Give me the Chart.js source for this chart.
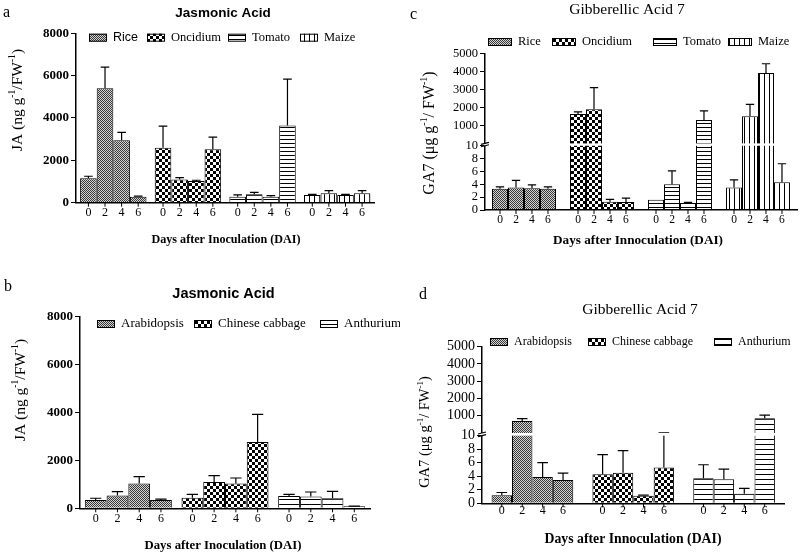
<!DOCTYPE html>
<html><head><meta charset="utf-8">
<script src="https://cdn.jsdelivr.net/npm/chart.js@4.4.0/dist/chart.umd.min.js"></script>
<style>
html,body{margin:0;padding:0;background:#fff;}
#wrap{position:relative;width:800px;height:557px;overflow:hidden;background:#fff;}
canvas{position:absolute;}
</style></head><body>
<div id="wrap">
<canvas id="ca" width="400" height="270" style="left:0;top:0;width:400px;height:270px"></canvas>
<canvas id="cc" width="400" height="270" style="left:400px;top:0;width:400px;height:270px"></canvas>
<canvas id="cb" width="400" height="287" style="left:0;top:270px;width:400px;height:287px"></canvas>
<canvas id="cd" width="400" height="287" style="left:400px;top:270px;width:400px;height:287px"></canvas>
</div>
<script>
// ---------------- DATA ----------------
const days = ['0', '2', '4', '6'];

// Panel a: Jasmonic acid (ng g-1 FW-1)
const speciesA = ['Rice', 'Oncidium', 'Tomato', 'Maize'];
const riceJA = [1150, 5400, 2950, 285];
const riceJAErr = [100, 1000, 370, 30];
const oncidiumJA = [2600, 1100, 1020, 2520];
const oncidiumJAErr = [1020, 80, 40, 580];
const tomatoJA = [285, 400, 285, 3640];
const tomatoJAErr = [80, 90, 45, 2200];
const maizeJA = [360, 445, 360, 445];
const maizeJAErr = [35, 125, 35, 125];

// Panel b: Jasmonic acid
const speciesB = ['Arabidopsis', 'Chinese cabbage', 'Anthurium'];
const arabidopsisJA = [350, 530, 1040, 350];
const arabidopsisJAErr = [70, 165, 280, 30];
const cabbageJA = [445, 1100, 1040, 2770];
const cabbageJAErr = [140, 265, 225, 1150];
const anthuriumJA = [515, 490, 420, 85];
const anthuriumJAErr = [70, 190, 290, 5];

// Panel c: Gibberellic acid 7 (ug g-1 FW-1)
const riceGA = [3.3, 3.5, 3.4, 3.3];
const riceGAErr = [0.3, 1.1, 0.5, 0.3];
const oncidiumGA = [1630, 1900, 1.3, 1.25];
const oncidiumGAErr = [120, 1200, 0.35, 0.6];
const tomatoGA = [1.6, 4.0, 1.1, 1300];
const tomatoGAErr = [0, 2.1, 0.1, 500];
const maizeGA = [3.5, 1500, 3900, 4.3];
const maizeGAErr = [1.2, 670, 520, 2.9];

// Panel d: Gibberellic acid 7
const arabidopsisGA = [1.2, 700, 3.9, 3.45];
const arabidopsisGAErr = [0.4, 130, 2.1, 1.0];
const cabbageGA = [4.3, 4.5, 1.1, 5.3];
const cabbageGAErr = [2.9, 3.3, 0.1, 5.1];
const anthuriumGA = [3.7, 3.55, 1.4, 850];
const anthuriumGAErr = [2.0, 1.5, 0.8, 190];

// Axis ticks
const jaTicks = [0, 2000, 4000, 6000, 8000];
const gaTicks = [0, 2, 4, 6, 8, 10, 1000, 2000, 3000, 4000, 5000];

// ---------------- STYLE HELPERS ----------------
const SERIF = '"Liberation Serif", "Times New Roman", serif';
const SANS = '"Liberation Sans", Arial, sans-serif';
Chart.defaults.color = '#000';

function makePattern(kind, step) {
  const c = document.createElement('canvas');
  const g = c.getContext('2d');
  if (kind === 'dots') {
    c.width = 2; c.height = 2;
    g.fillStyle = '#d4d4d4'; g.fillRect(0, 0, 2, 2);
    g.fillStyle = '#383838'; g.fillRect(0, 0, 1, 1); g.fillRect(1, 1, 1, 1);
  } else if (kind === 'check') {
    c.width = 6; c.height = 6;
    g.fillStyle = '#fff'; g.fillRect(0, 0, 6, 6);
    g.fillStyle = '#000'; g.fillRect(0, 0, 3, 3); g.fillRect(3, 3, 3, 3);
  } else if (kind === 'hline') {
    c.width = 4; c.height = step;
    g.fillStyle = '#fff'; g.fillRect(0, 0, 4, step);
    g.fillStyle = '#000'; g.fillRect(0, step - 1, 4, 1);
  } else {
    c.width = step; c.height = 4;
    g.fillStyle = '#fff'; g.fillRect(0, 0, step, 4);
    g.fillStyle = '#000'; g.fillRect(step - 1, 0, 1, 4);
  }
  return g.createPattern(c, 'repeat');
}

// ---------------- BROKEN SCALE ----------------
const BRK = {
  cc: {low: 10, lowFrac: 0.41, gapFrac: 0.015},
  cd: {low: 10, lowFrac: 0.432, gapFrac: 0.017}
};
class BrokenScale extends Chart.LinearScale {
  static id = 'broken';
  cfg() { return BRK[this.chart.canvas.id]; }
  buildTicks() { return gaTicks.map(v => ({value: v})); }
  lowTop() { const c = this.cfg(); return this.bottom - (this.bottom - this.top) * c.lowFrac; }
  upperZero() { const c = this.cfg(); return this.bottom - (this.bottom - this.top) * (c.lowFrac + c.gapFrac); }
  getPixelForValue(v) {
    const c = this.cfg(); const h = this.bottom - this.top;
    if (v <= c.low) return this.bottom - v / c.low * h * c.lowFrac;
    return this.upperZero() - v / this.max * h * (1 - c.lowFrac - c.gapFrac);
  }
  getValueForPixel(p) {
    const c = this.cfg(); const h = this.bottom - this.top;
    if (p >= this.lowTop()) return (this.bottom - p) / (h * c.lowFrac) * c.low;
    return (this.upperZero() - p) / (h * (1 - c.lowFrac - c.gapFrac)) * this.max;
  }
}
Chart.register(BrokenScale);

// ---------------- TEXT HELPER ----------------
function richWidth(ctx, segs, size, family, weight) {
  let w = 0;
  segs.forEach(s => {
    const sz = s.sup ? size * 0.62 : size;
    ctx.font = (weight || 'normal') + ' ' + sz + 'px ' + family;
    w += ctx.measureText(s.t).width;
  });
  return w;
}
function drawRich(ctx, segs, x, y, size, family, weight, rotate) {
  ctx.save();
  ctx.translate(x, y);
  if (rotate) ctx.rotate(-Math.PI / 2);
  const total = richWidth(ctx, segs, size, family, weight);
  let cx = -total / 2;
  ctx.textBaseline = 'middle';
  ctx.textAlign = 'left';
  ctx.fillStyle = '#000';
  segs.forEach(s => {
    const sz = s.sup ? size * 0.62 : size;
    ctx.font = (weight || 'normal') + ' ' + sz + 'px ' + family;
    ctx.fillText(s.t, cx, s.sup ? -size * 0.33 : 0);
    cx += ctx.measureText(s.t).width;
  });
  ctx.restore();
}

// ---------------- DECORATION PLUGIN ----------------
function decorPlugin(p) {
  return {
    id: 'decor' + p.id,
    afterDatasetsDraw(chart) {
      const ctx = chart.ctx;
      const ys = chart.scales.y;
      ctx.save();
      ctx.strokeStyle = '#000';
      ctx.lineWidth = 1.2;
      // error bars (upper whisker only)
      chart.data.datasets.forEach((ds, i) => {
        const meta = chart.getDatasetMeta(i);
        meta.data.forEach((el, j) => {
          const v = p.series[j][i], e = p.errors[j][i];
          if (!e) return;
          const yt = ys.getPixelForValue(v + e);
          const hw = el.width * 0.26;
          ctx.beginPath();
          ctx.moveTo(el.x, el.y);
          ctx.lineTo(el.x, yt);
          ctx.moveTo(el.x - hw, yt);
          ctx.lineTo(el.x + hw, yt);
          ctx.stroke();
        });
      });
      // axis break
      if (ys.type === 'broken') {
        const a = chart.chartArea;
        const y1 = ys.upperZero(), y2 = ys.lowTop();
        ctx.fillStyle = '#fff';
        ctx.fillRect(a.left - 1, y1, a.right - a.left + 1, y2 - y1);
        ctx.lineWidth = 1.2;
        ctx.beginPath();
        ctx.moveTo(a.left - 4, y1 + 1); ctx.lineTo(a.left + 4, y1 - 1);
        ctx.moveTo(a.left - 4, y2 + 1); ctx.lineTo(a.left + 4, y2 - 1);
        ctx.stroke();
      }
      ctx.restore();
    },
    afterDraw(chart) {
      const ctx = chart.ctx;
      const a = chart.chartArea;
      const ox = p.ox, oy = p.oy;
      ctx.save();
      // x tick marks + day labels under every bar
      ctx.strokeStyle = '#000';
      ctx.lineWidth = 1;
      ctx.fillStyle = '#000';
      ctx.textAlign = 'center';
      ctx.textBaseline = 'middle';
      ctx.font = p.dayFont;
      chart.data.datasets.forEach((ds, i) => {
        const meta = chart.getDatasetMeta(i);
        meta.data.forEach(el => {
          ctx.beginPath();
          ctx.moveTo(el.x, a.bottom);
          ctx.lineTo(el.x, a.bottom + 4);
          ctx.stroke();
          ctx.fillText(days[i], el.x, a.bottom + p.dayOffset);
        });
      });
      // panel letter
      ctx.font = '16px ' + SERIF;
      ctx.textAlign = 'left';
      ctx.fillText(p.letter.t, p.letter.x - ox, p.letter.y - oy);
      // title
      ctx.textAlign = 'center';
      ctx.font = p.title.font;
      ctx.fillText(p.title.t, p.title.x - ox, p.title.y - oy);
      // x-axis title
      ctx.font = p.xTitle.font;
      ctx.fillText(p.xTitle.t, p.xTitle.x - ox, p.xTitle.y - oy, p.xTitle.w);
      // y-axis title
      drawRich(ctx, p.yTitle.segs, p.yTitle.x - ox, p.yTitle.y - oy, p.yTitle.size, SERIF, 'normal', true);
      // legend
      p.legend.forEach((it, k) => {
        const bx = it.x - ox, by = p.legendY - oy - p.box[1] / 2;
        ctx.fillStyle = p.pats[k];
        ctx.fillRect(bx, by, p.box[0], p.box[1]);
        ctx.strokeStyle = '#000';
        ctx.lineWidth = 1;
        ctx.strokeRect(bx + 0.5, by + 0.5, p.box[0] - 1, p.box[1] - 1);
        ctx.fillStyle = '#000';
        ctx.textAlign = 'left';
        ctx.font = it.font;
        ctx.fillText(p.species[k], bx + p.box[0] + 6, p.legendY - oy);
      });
      ctx.restore();
    }
  };
}

// ---------------- BUILD ----------------
function buildPanel(p) {
  const yw = 60, xh = 30;
  const pad = {
    left: p.area.L - p.ox - yw,
    top: p.area.T - p.oy,
    right: p.ox + p.cw - p.area.R,
    bottom: p.oy + p.ch - p.area.B - xh
  };
  const datasets = days.map((d, i) => ({
    label: 'Day ' + d,
    data: p.series.map(s => s[i]),
    backgroundColor: p.pats,
    borderColor: '#000',
    borderWidth: 1
  }));
  const yCommon = {
    min: 0,
    max: p.yMax,
    grid: {display: true, drawOnChartArea: false, drawTicks: true, tickLength: 5, color: '#000', lineWidth: 1},
    border: {display: true, color: '#000', width: 1.5},
    ticks: {autoSkip: false, padding: 2, color: '#000', font: p.tickFont, callback: v => String(v)},
    afterFit: s => { s.width = yw; }
  };
  const yScale = p.broken
    ? Object.assign({type: 'broken'}, yCommon)
    : Object.assign({type: 'linear', afterBuildTicks: s => { s.ticks = jaTicks.map(v => ({value: v})); }}, yCommon);
  new Chart(document.getElementById(p.id), {
    type: 'bar',
    data: {labels: p.species, datasets},
    options: {
      responsive: false,
      animation: false,
      devicePixelRatio: 1,
      layout: {padding: pad},
      datasets: {bar: {categoryPercentage: p.catPct, barPercentage: 1}},
      plugins: {legend: {display: false}, tooltip: {enabled: false}, title: {display: false}},
      scales: {
        x: {
          type: 'category', offset: true,
          grid: {display: false},
          border: {display: true, color: '#000', width: 1.5, z: 1},
          ticks: {display: false},
          afterFit: s => { s.height = xh; }
        },
        y: yScale
      }
    },
    plugins: [decorPlugin(p)]
  });
}

const jaYTitle = [{t: 'JA (ng g'}, {t: '-1', sup: true}, {t: '/FW'}, {t: '-1', sup: true}, {t: ')'}];
const gaYTitle = [{t: 'GA7 (\u03bcg g'}, {t: '-1', sup: true}, {t: '/ FW'}, {t: '-1', sup: true}, {t: ')'}];

buildPanel({
  id: 'ca', ox: 0, oy: 0, cw: 400, ch: 270,
  area: {L: 76, T: 33.3, R: 374.5, B: 202.7}, catPct: 0.89, yMax: 8000, broken: false,
  species: speciesA,
  series: [riceJA, oncidiumJA, tomatoJA, maizeJA],
  errors: [riceJAErr, oncidiumJAErr, tomatoJAErr, maizeJAErr],
  pats: [makePattern('dots'), makePattern('check'), makePattern('hline', 4), makePattern('vline', 5)],
  tickFont: {family: SERIF, size: 13, weight: 'bold'},
  dayFont: '12px ' + SERIF, dayOffset: 10,
  letter: {t: 'a', x: 3, y: 13},
  title: {t: 'Jasmonic Acid', x: 223, y: 13, font: 'bold 13.5px ' + SANS},
  xTitle: {t: 'Days after Inoculation (DAI)', x: 226, y: 240, w: 149, font: 'bold 13px ' + SERIF},
  yTitle: {segs: jaYTitle, x: 18, y: 100, size: 15.5},
  legendY: 37.7, box: [18, 8],
  legend: [{x: 89, font: '12.5px ' + SANS}, {x: 147, font: '12.5px ' + SERIF}, {x: 228, font: '12.5px ' + SERIF}, {x: 300, font: '12.5px ' + SERIF}]
});

buildPanel({
  id: 'cb', ox: 0, oy: 270, cw: 400, ch: 287,
  area: {L: 80, T: 316.7, R: 370, B: 508.3}, catPct: 0.9, yMax: 8000, broken: false,
  species: speciesB,
  series: [arabidopsisJA, cabbageJA, anthuriumJA],
  errors: [arabidopsisJAErr, cabbageJAErr, anthuriumJAErr],
  pats: [makePattern('dots'), makePattern('check'), makePattern('hline', 5)],
  tickFont: {family: SERIF, size: 13, weight: 'bold'},
  dayFont: '12px ' + SERIF, dayOffset: 11,
  letter: {t: 'b', x: 4, y: 287},
  title: {t: 'Jasmonic Acid', x: 223.5, y: 294, font: 'bold 14.5px ' + SANS},
  xTitle: {t: 'Days after Inoculation (DAI)', x: 223, y: 546, w: 157, font: 'bold 13px ' + SERIF},
  yTitle: {segs: jaYTitle, x: 21, y: 390, size: 15.5},
  legendY: 324, box: [18, 8],
  legend: [{x: 97, font: '13px ' + SERIF}, {x: 194, font: '13px ' + SERIF}, {x: 320, font: '13px ' + SERIF}]
});

buildPanel({
  id: 'cc', ox: 400, oy: 0, cw: 400, ch: 270,
  area: {L: 485, T: 53.3, R: 797, B: 210}, catPct: 0.82, yMax: 5000, broken: true,
  species: speciesA,
  series: [riceGA, oncidiumGA, tomatoGA, maizeGA],
  errors: [riceGAErr, oncidiumGAErr, tomatoGAErr, maizeGAErr],
  pats: [makePattern('dots'), makePattern('check'), makePattern('hline', 4), makePattern('vline', 5)],
  tickFont: {family: SERIF, size: 12.5},
  dayFont: '11.5px ' + SERIF, dayOffset: 10,
  letter: {t: 'c', x: 410, y: 15},
  title: {t: 'Gibberellic Acid 7', x: 627, y: 10, font: '15.5px ' + SERIF},
  xTitle: {t: 'Days after Innoculation (DAI)', x: 638, y: 241, w: 170, font: 'bold 13.5px ' + SERIF},
  yTitle: {segs: gaYTitle, x: 430, y: 133, size: 16},
  legendY: 42, box: [24, 8],
  legend: [{x: 488, font: '12.5px ' + SERIF}, {x: 552, font: '12.5px ' + SERIF}, {x: 653, font: '12.5px ' + SERIF}, {x: 728, font: '12.5px ' + SERIF}]
});

buildPanel({
  id: 'cd', ox: 400, oy: 270, cw: 400, ch: 287,
  area: {L: 482, T: 346.7, R: 784.5, B: 503.3}, catPct: 0.81, yMax: 5000, broken: true,
  species: speciesB,
  series: [arabidopsisGA, cabbageGA, anthuriumGA],
  errors: [arabidopsisGAErr, cabbageGAErr, anthuriumGAErr],
  pats: [makePattern('dots'), makePattern('check'), makePattern('hline', 5)],
  tickFont: {family: SERIF, size: 14},
  dayFont: '12px ' + SERIF, dayOffset: 8,
  letter: {t: 'd', x: 419, y: 295},
  title: {t: 'Gibberellic Acid 7', x: 640, y: 310, font: '15.5px ' + SERIF},
  xTitle: {t: 'Days after Innoculation (DAI)', x: 633, y: 539, w: 177, font: 'bold 14px ' + SERIF},
  yTitle: {segs: gaYTitle, x: 425, y: 432, size: 14.5},
  legendY: 342, box: [18, 8],
  legend: [{x: 490, font: '12px ' + SERIF}, {x: 588, font: '12px ' + SERIF}, {x: 714, font: '12px ' + SERIF}]
});
</script>
</body></html>
